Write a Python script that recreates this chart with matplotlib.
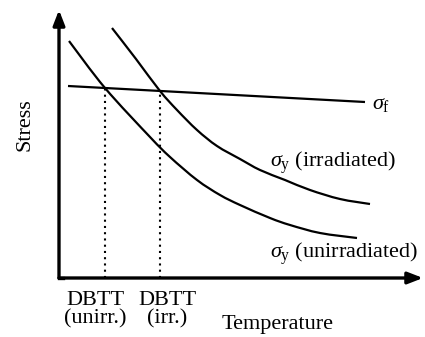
import matplotlib
matplotlib.use("Agg")
import matplotlib.pyplot as plt
from matplotlib.path import Path
from matplotlib.patches import PathPatch

# Data (arbitrary units: temperature, stress)
irr_T = [53, 77, 101, 118, 138, 158, 181, 201, 226, 251, 281, 311]
irr_S = [250, 219, 187, 168, 148, 132, 119, 108, 98, 88, 79, 74]
unirr_T = [10, 46, 91, 111, 138, 161, 181, 211, 231, 261, 298]
unirr_S = [237, 190, 141, 121, 98, 83, 73, 60, 53, 45, 40]
frac_T = [9, 306]
frac_S = [192, 176]
dbtt_T = [46, 101]
dbtt_S = [190, 187]
dbtt_labels = ["DBTT\n(unirr.)", "DBTT\n(irr.)"]

plt.rcParams['font.family'] = ['Liberation Serif', 'DejaVu Serif']
plt.rcParams['mathtext.fontset'] = 'custom'
plt.rcParams['mathtext.rm'] = 'Liberation Serif'
plt.rcParams['mathtext.it'] = 'Liberation Serif:italic'

W, H = 425, 337
fig = plt.figure(figsize=(W / 100, H / 100), dpi=100)
ox, oy = 59, 278
ax = fig.add_axes([ox / W, (H - oy) / H, 364 / W, 268 / H])
ax.set_xlim(0, 364)
ax.set_ylim(0, 268)
ax.axis('off')


def smooth_path(xs, ys):
    """Catmull-Rom curve through the given points, as cubic Bezier path."""
    pts = list(zip(xs, ys))
    verts = [pts[0]]
    codes = [Path.MOVETO]
    n = len(pts)
    for i in range(n - 1):
        p0 = pts[i - 1] if i > 0 else pts[i]
        p1 = pts[i]
        p2 = pts[i + 1]
        p3 = pts[i + 2] if i + 2 < n else pts[i + 1]
        c1 = (p1[0] + (p2[0] - p0[0]) / 6, p1[1] + (p2[1] - p0[1]) / 6)
        c2 = (p2[0] - (p3[0] - p1[0]) / 6, p2[1] - (p3[1] - p1[1]) / 6)
        verts += [c1, c2, p2]
        codes += [Path.CURVE4] * 3
    return Path(verts, codes)


lw = 1.6
for T, S in [(irr_T, irr_S), (unirr_T, unirr_S)]:
    ax.add_patch(PathPatch(smooth_path(T, S), facecolor='none', edgecolor='black',
                           lw=lw, capstyle='butt'))
ax.plot(frac_T, frac_S, color='black', lw=lw, solid_capstyle='butt')
for t, s in zip(dbtt_T, dbtt_S):
    ax.plot([t, t], [0, s], color='black', lw=1.5, linestyle=(0, (1, 2)))

# axes arrows
arrow = dict(arrowstyle='-|>,head_length=0.9,head_width=0.35', color='black', lw=2.4,
             shrinkA=0, shrinkB=0)
ax.annotate('', xy=(0, 1.0), xytext=(0, 0), xycoords='axes fraction', arrowprops=arrow, annotation_clip=False)
ax.annotate('', xy=(1.0, 0), xytext=(0, 0), xycoords='axes fraction', arrowprops=arrow, annotation_clip=False)
ax.plot([0, 0.01], [0, 0], transform=ax.transAxes, color='black', lw=2.4, clip_on=False)

fs = 16
ax.text(-34, 153, 'Stress', rotation=90, ha='center', va='center', fontsize=fs)
offsets = [-10, 7]
for t, lab, off in zip(dbtt_T, dbtt_labels, offsets):
    ax.text(t + off, -13, lab, ha='center', va='top', fontsize=fs, linespacing=0.95)
ax.text(219, -47, 'Temperature', ha='center', va='center', fontsize=fs)
ax.text(313, 173, r'$\sigma_{\mathrm{f}}$', ha='left', va='center', fontsize=fs)
ax.text(211, 115, r'$\sigma_{\mathrm{y}}$ (irradiated)', ha='left', va='center', fontsize=fs)
ax.text(211, 24, r'$\sigma_{\mathrm{y}}$ (unirradiated)', ha='left', va='center', fontsize=fs)

fig.savefig('out.png', dpi=100)
